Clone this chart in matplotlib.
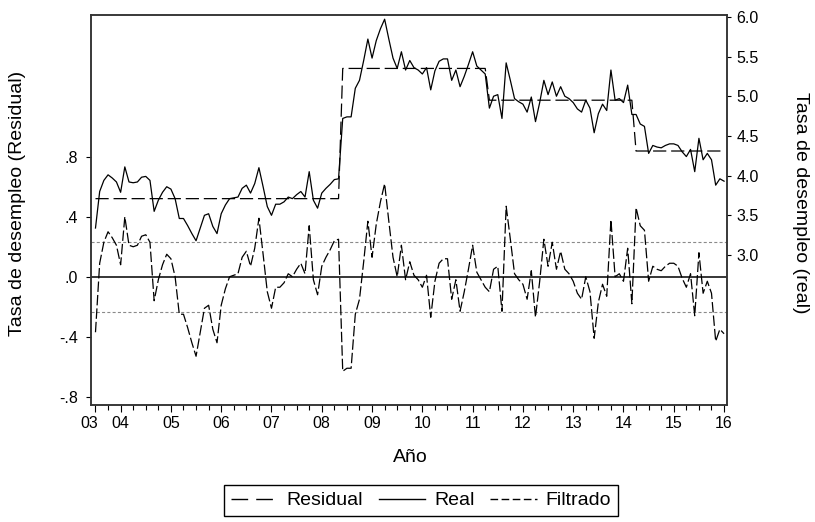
import numpy as np
import pandas as pd
import matplotlib
matplotlib.use('Agg')
import matplotlib.pyplot as plt
from matplotlib.lines import Line2D
from matplotlib.transforms import ScaledTranslation

plt.rcParams['font.family'] = ['Liberation Sans', 'DejaVu Sans']
plt.rcParams['lines.scale_dashes'] = False

# Monthly sample 2003M07 - 2016M01
months = pd.period_range('2003-07', '2016-01', freq='M')

# Tasa de desempleo (real)
real = [
    3.34, 3.80, 3.94, 4.01, 3.97, 3.92,                                      # 2003
    3.79, 4.11, 3.92, 3.91, 3.92, 3.98, 3.99, 3.94, 3.55, 3.69, 3.79, 3.86,  # 2004
    3.83, 3.71, 3.46, 3.46, 3.37, 3.27, 3.18, 3.34, 3.50, 3.52, 3.36, 3.27,  # 2005
    3.52, 3.63, 3.71, 3.72, 3.73, 3.84, 3.88, 3.78, 3.90, 4.10, 3.86, 3.61,  # 2006
    3.50, 3.64, 3.64, 3.67, 3.73, 3.71, 3.76, 3.80, 3.73, 4.05, 3.69, 3.59,  # 2007
    3.78, 3.84, 3.89, 3.95, 3.96, 4.72, 4.74, 4.74, 5.10, 5.20, 5.45, 5.72,  # 2008
    5.48, 5.70, 5.85, 5.97, 5.72, 5.48, 5.35, 5.56, 5.33, 5.45, 5.36, 5.33,  # 2009
    5.28, 5.36, 5.08, 5.32, 5.44, 5.47, 5.47, 5.20, 5.33, 5.12, 5.25, 5.40,  # 2010
    5.56, 5.38, 5.33, 5.28, 4.85, 5.00, 5.02, 4.72, 5.42, 5.20, 4.97, 4.93,  # 2011
    4.90, 4.80, 4.99, 4.68, 4.92, 5.20, 5.02, 5.18, 5.00, 5.12, 5.00, 4.97,  # 2012
    4.92, 4.84, 4.80, 4.95, 4.85, 4.54, 4.78, 4.90, 4.82, 5.33, 4.95, 4.97,  # 2013
    4.92, 5.14, 4.77, 4.77, 4.65, 4.62, 4.28, 4.38, 4.36, 4.35, 4.38, 4.40,  # 2014
    4.40, 4.38, 4.30, 4.24, 4.33, 4.05, 4.47, 4.20, 4.28, 4.20, 3.88, 3.96,  # 2015
    3.93,                                                                    # 2016
]

# Filtrado: level of each regime and its length in months
filt_levels = [3.71, 5.35, 4.95, 4.31]
filt_lengths = [59, 35, 35, 22]
filtrado = np.repeat(filt_levels, filt_lengths)

real = np.array(real)
residual = real - filtrado
band = 0.235

x = np.arange(len(months))

fig = plt.figure(figsize=(8.15, 5.22), dpi=100)
ax = fig.add_axes([91 / 815, 1 - 405 / 522, 636 / 815, 390 / 522])
ax2 = ax.twinx()

# left axis: residual with zero line and bands
ax.axhline(0, color='black', lw=1.1, zorder=1)
ax.axhline(band, color='#8a8a8a', lw=0.8, ls=(0, (2.2, 1.6)), zorder=1)
ax.axhline(-band, color='#8a8a8a', lw=0.8, ls=(0, (2.2, 1.6)), zorder=1)
ax.plot(x, residual, color='black', lw=0.9, ls=(0, (7.5, 2.2)), zorder=3)

# right axis: real and filtered series
ax2.plot(x, real, color='black', lw=0.9, zorder=3)
ax2.plot(x, filtrado, color='black', lw=0.9, ls=(0, (9.5, 3.5)), zorder=3)

ax.set_xlim(-1.07, 150.7)
ax.set_ylim(-0.855, 1.745)
ax2.set_ylim(1.111, 6.023)

ax.set_yticks([-0.8, -0.4, 0.0, 0.4, 0.8])
ax.set_yticklabels(['-.8', '-.4', '.0', '.4', '.8'])
rticks = [3.0, 3.5, 4.0, 4.5, 5.0, 5.5, 6.0]
ax2.set_yticks(rticks)
ax2.set_yticklabels([f'{v:.1f}' for v in rticks])

# x ticks: quarters minor, January major
jan = [0] + [i for i, m in enumerate(months) if m.month == 1]
ax.set_xticks(jan)
ax.set_xticklabels([f'{months[i].year % 100:02d}' for i in jan])
ax.set_xticks(x[::3], minor=True)

ax.tick_params(axis='x', which='major', direction='out', length=5, width=0.8,
               labelsize=11.5, pad=3)
ax.tick_params(axis='x', which='minor', direction='out', length=3.5, width=0.8)
ax.tick_params(axis='y', direction='out', length=3.6, width=0.8, labelsize=11.5, pad=6)
ax2.tick_params(axis='y', direction='out', length=3, width=0.8, labelsize=11.5, pad=4)

first = ax.xaxis.get_major_ticks()[0].label1
first.set_transform(first.get_transform() + ScaledTranslation(-6 / 100, 0, fig.dpi_scale_trans))

for a in (ax, ax2):
    for s in a.spines.values():
        s.set_color('#333333')
        s.set_linewidth(1.1)

fig.text(18 / 815, 1 - 203.5 / 522, 'Tasa de desempleo (Residual)', rotation=90,
         ha='center', va='center', fontsize=14)
fig.text(800 / 815, 1 - 203 / 522, 'Tasa de desempleo (real)', rotation=270,
         ha='center', va='center', fontsize=14)
fig.text(410 / 815, 1 - 458 / 522, 'Año', ha='center', va='center', fontsize=14)

handles = [
    Line2D([], [], color='black', lw=1.0, ls=(0, (12, 5.8))),
    Line2D([], [], color='black', lw=1.0),
    Line2D([], [], color='black', lw=1.0, ls=(0, (5.5, 2.5))),
]
leg = fig.legend(handles, ['Residual', 'Real', 'Filtrado'], loc='center',
                 bbox_to_anchor=(421 / 815, 1 - 500.5 / 522), ncol=3, fontsize=14,
                 frameon=True, fancybox=False, framealpha=1, edgecolor='black',
                 handlelength=2.4, handletextpad=0.45, columnspacing=0.8,
                 borderpad=0.35)
leg.get_frame().set_linewidth(1.0)

fig.savefig('out.png', dpi=100)
